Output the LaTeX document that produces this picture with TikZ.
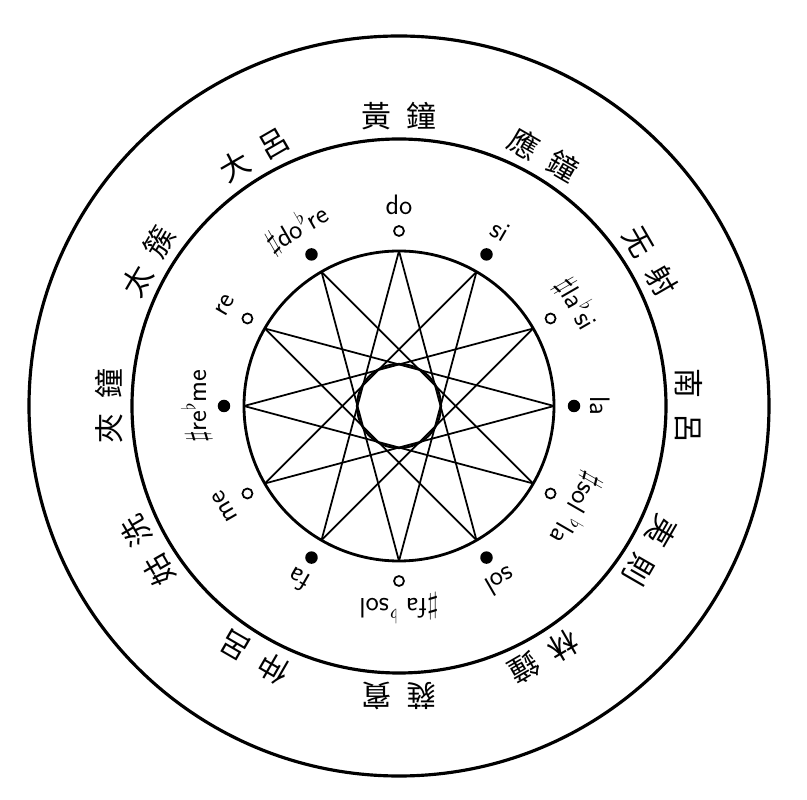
\documentclass[tikz,border=0pt]{standalone}
\usepackage{fontspec}
\newfontfamily\cjk{Noto Sans CJK TC}
\newcommand{\shp}{$\sharp$}
\newcommand{\flt}{\textsuperscript{$\flat$}}
\begin{document}
\begin{tikzpicture}[fulldot/.style={circle,fill=black,inner sep=0pt,minimum size=2.5mm},
    opendot/.style={circle,draw,line width=1pt,fill=white,inner sep=0pt,minimum size=2mm},
    yin/.style={font=\sffamily\fontsize{16}{16}\selectfont,inner sep=1pt},
    lu/.style={font=\cjk\fontsize{17}{17}\selectfont,inner sep=1pt}]
  \useasboundingbox (-7.98,-7.88) rectangle (8.16,8.12);
  \draw[line width=1.8pt] (0,0) circle (7.4);
  \draw[line width=1.8pt] (0,0) circle (5.34);
  \draw[line width=1.6pt] (0,0) circle (3.1);
  \draw[line width=1.2pt] (0,0) circle (0.84);
  % star 12/5
  \foreach \i in {0,...,11} \coordinate (p\i) at (90-30*\i:3.1);
  \foreach \i in {0,...,11}{
    \pgfmathtruncatemacro\j{mod(\i+5,12)}
    \draw[line width=1pt] (p\i) -- (p\j);
  }
  % notes
  \node[opendot](do)at(90:3.5){};   \node[yin,rotate=0](t-do)at(90:4.02){do};
  \node[fulldot](si)at(60:3.5){};   \node[yin,rotate=-30](t-si)at(60:4.05){si};
  \node[opendot](las)at(30:3.5){};  \node[yin,rotate=-60](t-las)at(30:4.1){\shp la\flt si};
  \node[fulldot](la)at(0:3.5){};    \node[yin,rotate=-90](t-la)at(0:4.02){la};
  \node[opendot](sols)at(-30:3.5){};\node[yin,rotate=-120](t-sols)at(-30:4.1){\shp sol \flt la};
  \node[fulldot](sol)at(-60:3.5){}; \node[yin,rotate=-150](t-sol)at(-60:4.05){sol};
  \node[opendot](fas)at(-90:3.5){}; \node[yin,rotate=180](t-fas)at(-90:4.05){\shp fa \flt sol};
  \node[fulldot](fa)at(-120:3.5){}; \node[yin,rotate=150](t-fa)at(-120:4.02){fa};
  \node[opendot](me)at(-150:3.5){}; \node[yin,rotate=120](t-me)at(-150:4.02){me};
  \node[fulldot](res)at(180:3.5){}; \node[yin,rotate=90](t-res)at(180:4.05){\shp re\flt me};
  \node[opendot](re)at(150:3.5){};  \node[yin,rotate=60](t-re)at(150:4.02){re};
  \node[fulldot](dos)at(120:3.5){}; \node[yin,rotate=30](t-dos)at(120:4.1){\shp do\flt re};
  % lu names
  \node[lu,rotate=0](huangzhong)at(90:5.8){黃\hspace{0.5em}鐘};
  \node[lu,rotate=-30](yingzhong)at(60:5.8){應\hspace{0.5em}鐘};
  \node[lu,rotate=-60](wuyi)at(30:5.8){无\hspace{0.5em}射};
  \node[lu,rotate=-90](nanlu)at(0:5.8){南\hspace{0.5em}呂};
  \node[lu,rotate=-120](yize)at(-30:5.8){夷\hspace{0.5em}則};
  \node[lu,rotate=-150](linzhong)at(-60:5.8){林\hspace{0.5em}鐘};
  \node[lu,rotate=180](ruibin)at(-90:5.8){蕤\hspace{0.5em}賓};
  \node[lu,rotate=150](zhonglu)at(-120:5.8){仲\hspace{0.5em}呂};
  \node[lu,rotate=120](guxian)at(-150:5.8){姑\hspace{0.5em}洗};
  \node[lu,rotate=90](jiazhong)at(180:5.8){夾\hspace{0.5em}鐘};
  \node[lu,rotate=60](taicu)at(150:5.8){太\hspace{0.5em}簇};
  \node[lu,rotate=30](dalu)at(120:5.8){大\hspace{0.5em}呂};
\end{tikzpicture}
\end{document}
